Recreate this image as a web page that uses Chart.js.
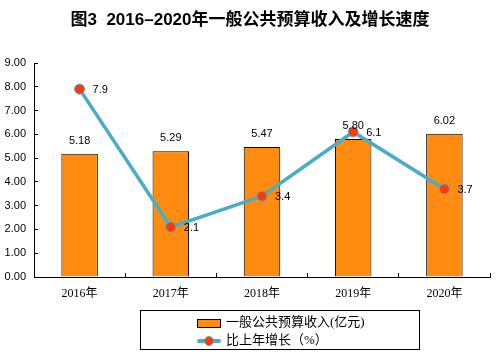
<!DOCTYPE html>
<html><head><meta charset="utf-8">
<script src="https://cdn.jsdelivr.net/npm/chart.js@4"></script>
<style>
html,body{margin:0;padding:0;background:#fff;}
#wrap{position:relative;width:500px;height:355px;}
#title{position:absolute;left:0;top:5px;width:500px;text-align:center;font:bold 17px "Liberation Sans","Noto Sans CJK SC",sans-serif;color:#000;}
#legend{position:absolute;left:140px;top:310px;width:278px;height:38px;border:1px solid #000;box-sizing:content-box;font:13px "Liberation Serif","Noto Sans CJK SC",serif;color:#000;}
.row{position:absolute;left:56px;height:16px;line-height:16px;white-space:nowrap;}
.sw{display:inline-block;vertical-align:middle;}
</style></head>
<body><div id="wrap">
<canvas id="c" width="500" height="355"></canvas>
<div id="title">图3&nbsp;&nbsp;2016–2020年一般公共预算收入及增长速度</div>
<div id="legend">
 <div class="row" style="top:3px"><span class="sw" style="width:22px;height:7px;background:#FF8C11;border:1px solid #000;margin-right:5px;"></span>一般公共预算收入(亿元)</div>
 <div class="row" style="top:21px"><span class="sw" style="position:relative;width:24px;height:10px;margin-right:5px;"><span style="position:absolute;left:0;top:3px;width:24px;height:4px;background:#4BACC6;border-radius:2px;"></span><span style="position:absolute;left:7px;top:0;width:8px;height:8px;background:#FF3A0A;border:1px solid #4BACC6;border-radius:50%;"></span></span>比上年增长（%）</div>
</div>
</div>
<script>
const categories = ['2016年','2017年','2018年','2019年','2020年'];
const revenue = [5.18, 5.29, 5.47, 5.80, 6.02];
const growth = [7.9, 2.1, 3.4, 6.1, 3.7];
const yTicks = [0,1,2,3,4,5,6,7,8,9];

const labelPlugin = {
  id:'labels',
  afterDatasetsDraw(chart){
    const ctx = chart.ctx;
    ctx.save();
    ctx.font = '11px "Liberation Sans", Arial, sans-serif';
    ctx.fillStyle = '#000';
    const barMeta = chart.getDatasetMeta(1);
    ctx.textAlign='center'; ctx.textBaseline='middle';
    barMeta.data.forEach((el,i)=>{
      ctx.fillText(revenue[i].toFixed(2), el.x, el.y-13);
    });
    const lineMeta = chart.getDatasetMeta(0);
    ctx.textAlign='left';
    lineMeta.data.forEach((el,i)=>{
      ctx.fillText(growth[i].toFixed(1), el.x+13, el.y+1);
    });
    ctx.restore();
  }
};

new Chart(document.getElementById('c'), {
  data:{
    labels: categories,
    datasets:[
      {type:'line', label:'比上年增长（%）', data:growth, borderColor:'#4BACC6', borderWidth:3.5,
       pointBackgroundColor:'#FF3A0A', pointBorderColor:'#4BACC6', pointBorderWidth:1, pointRadius:5, tension:0, order:0},
      {type:'bar', label:'一般公共预算收入(亿元)', data:revenue, backgroundColor:'#FF8C11', borderColor:'#000', borderWidth:1,
       barPercentage:0.4, categoryPercentage:1.0, order:1}
    ]
  },
  options:{
    responsive:false, animation:false,
    layout:{padding:{top:63,left:0,right:10,bottom:0}},
    plugins:{legend:{display:false}, title:{display:false}, tooltip:{enabled:false}},
    scales:{
      x:{
        grid:{display:true, offset:true, drawOnChartArea:false, drawTicks:true, tickLength:-4, color:'#000'},
        border:{display:true,color:'#000',width:1},
        ticks:{color:'#000', padding:14, font:{family:'"Liberation Serif","Noto Sans CJK SC",serif', size:12}},
        afterFit(s){ s.height = 78; }
      },
      y:{
        min:0,max:9,
        afterBuildTicks(s){ s.ticks = yTicks.map(v=>({value:v})); },
        grid:{display:true, drawOnChartArea:false, drawTicks:true, tickLength:-4, color:'#000'},
        border:{display:true,color:'#000',width:1},
        ticks:{color:'#000', padding:12, font:{family:'"Liberation Sans",Arial,sans-serif', size:11}, callback:v=>Number(v).toFixed(2)},
        afterFit(s){ s.width = 34; }
      }
    }
  },
  plugins:[labelPlugin]
});
</script>
</body></html>
